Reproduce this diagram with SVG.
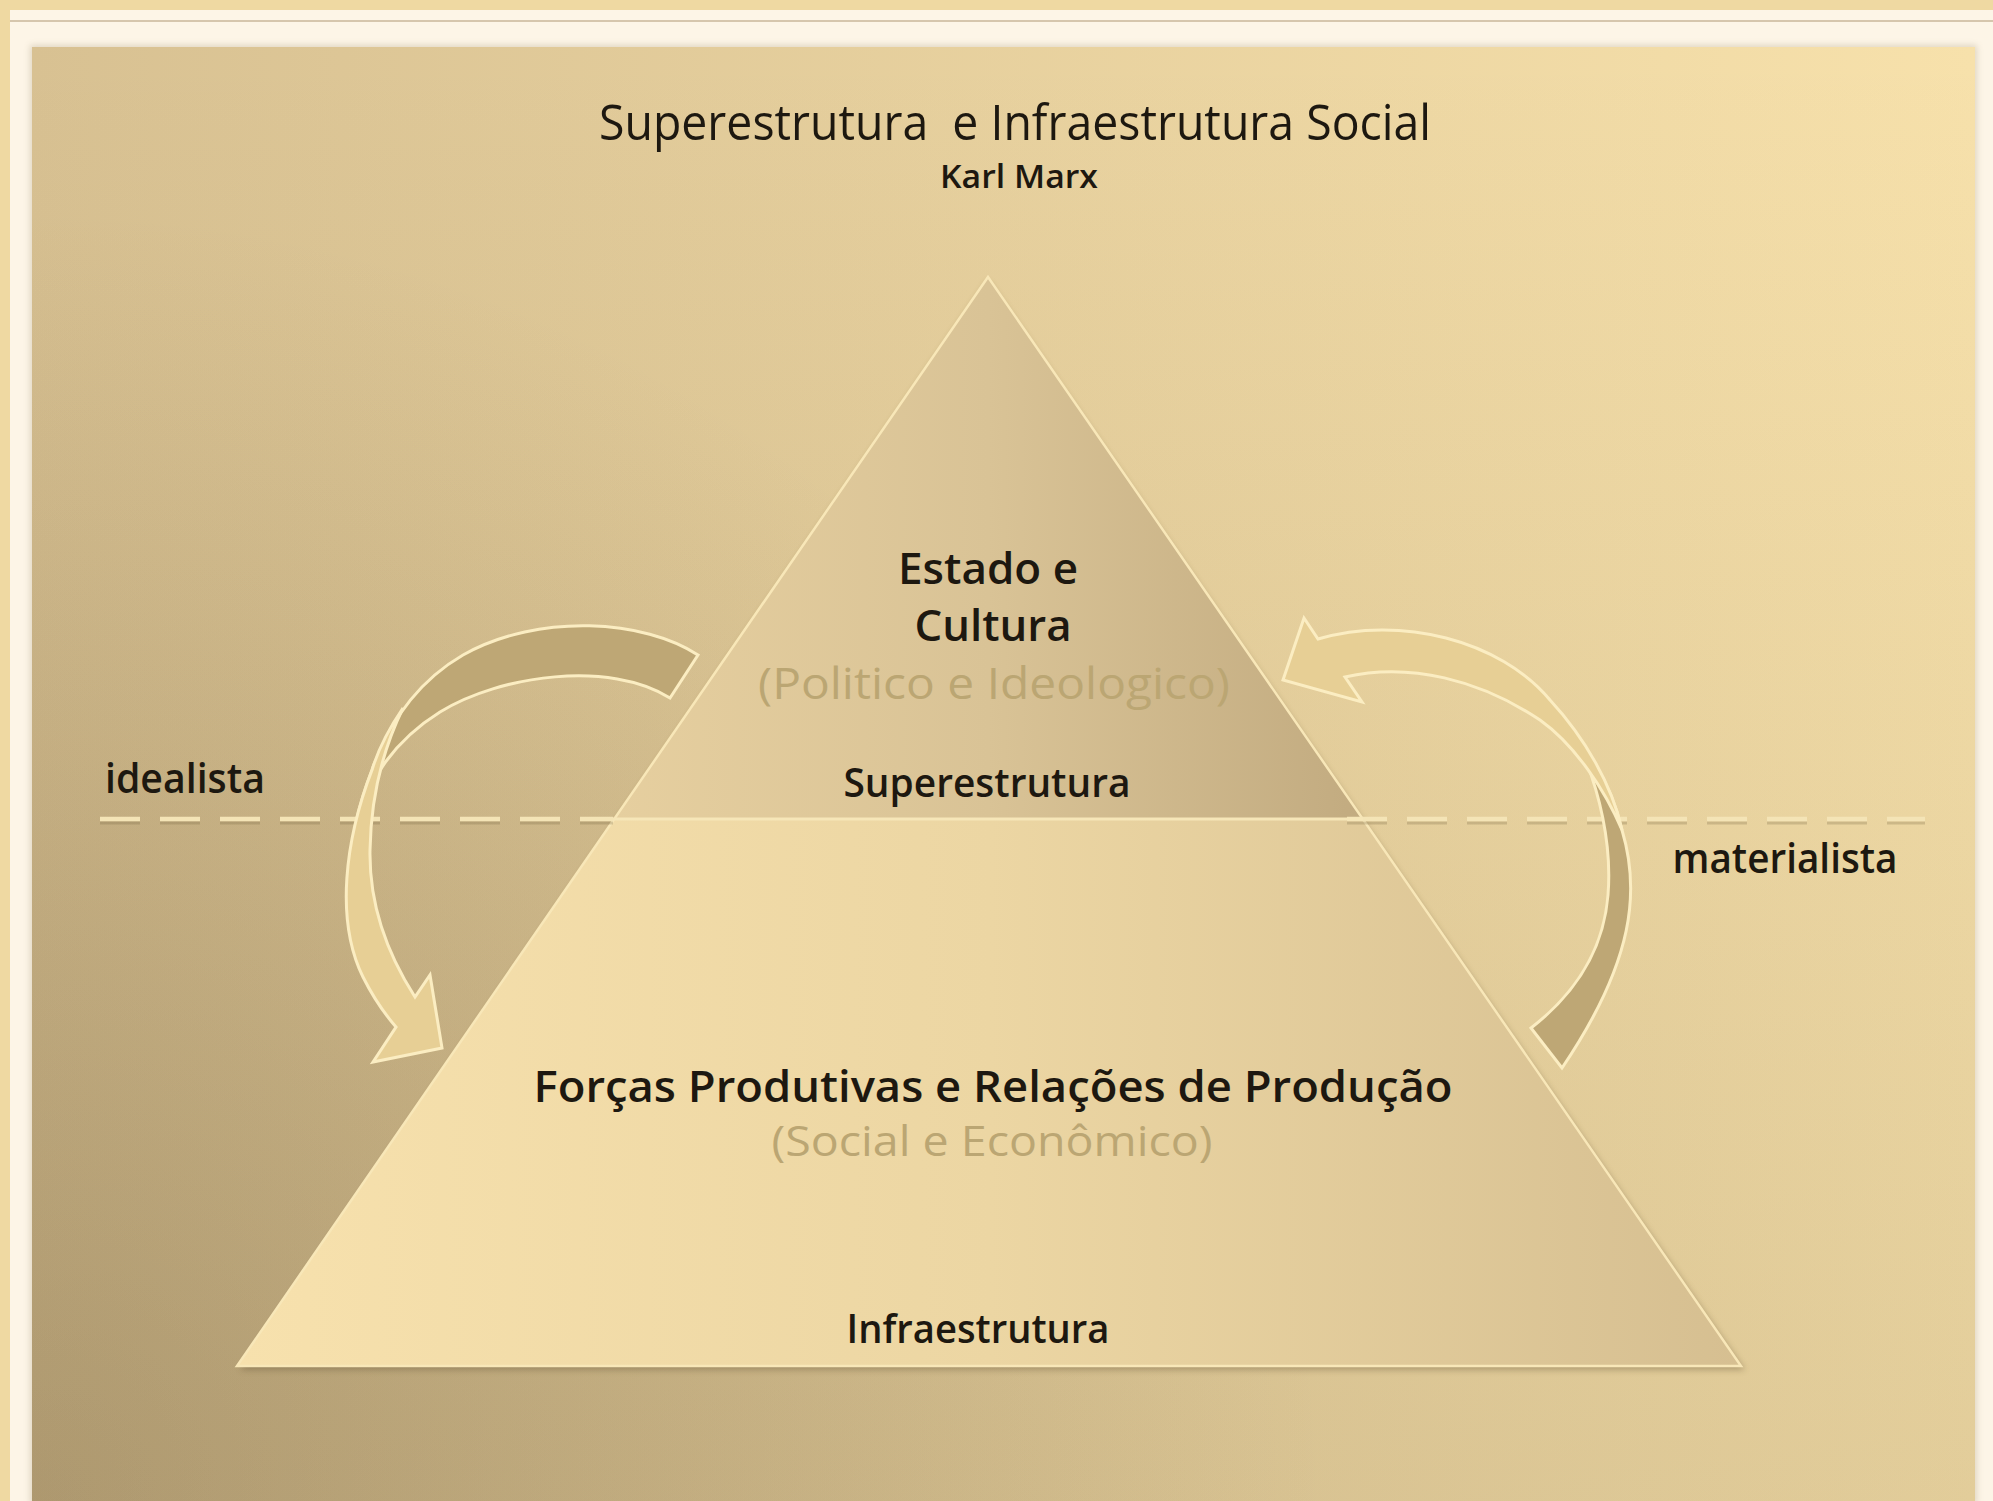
<svg xmlns="http://www.w3.org/2000/svg" width="1993" height="1501" viewBox="0 0 1993 1501">
<defs>
  <linearGradient id="panelH" x1="32" y1="0" x2="1975" y2="0" gradientUnits="userSpaceOnUse">
    <stop offset="0" stop-color="#d8c192"/>
    <stop offset="1" stop-color="#f7e1ab"/>
  </linearGradient>
  <linearGradient id="panelV" x1="0" y1="47" x2="0" y2="1501" gradientUnits="userSpaceOnUse">
    <stop offset="0" stop-color="#3a2a10" stop-opacity="0"/>
    <stop offset="1" stop-color="#3a2a10" stop-opacity="0.11"/>
  </linearGradient>
  <radialGradient id="panelBL" cx="32" cy="1501" r="1300" gradientUnits="userSpaceOnUse">
    <stop offset="0" stop-color="#3a2a10" stop-opacity="0.18"/>
    <stop offset="1" stop-color="#3a2a10" stop-opacity="0"/>
  </radialGradient>
  <linearGradient id="topFill" x1="613" y1="0" x2="1363" y2="0" gradientUnits="userSpaceOnUse">
    <stop offset="0" stop-color="#e6cf9f"/>
    <stop offset="0.5" stop-color="#d9c396"/>
    <stop offset="1" stop-color="#c2ab80"/>
  </linearGradient>
  <linearGradient id="baseFill" x1="237" y1="0" x2="1741" y2="0" gradientUnits="userSpaceOnUse">
    <stop offset="0" stop-color="#f7e1ad"/>
    <stop offset="0.5" stop-color="#ecd6a3"/>
    <stop offset="1" stop-color="#d6bf91"/>
  </linearGradient>
  <filter id="soft" x="-5%" y="-5%" width="110%" height="110%"><feGaussianBlur stdDeviation="3"/></filter>
</defs>
<style>
  text { font-family: "Open Sans", "Noto Sans", "Liberation Sans", sans-serif; text-anchor: middle; fill: #1d1810; }
  .main { font-weight: 600; }
  .reg { font-weight: 500; }
  .sub { fill: #bba673; font-weight: 400; }
  .edge { fill: none; stroke: #f8e7b8; stroke-width: 2.5; stroke-linejoin: miter; }
  .dash { stroke: #f4e4b6; stroke-width: 4.5; stroke-dasharray: 40 20; fill: none; }
  .dashShadow { stroke: #6f5f3a; stroke-opacity: .25; stroke-width: 3; stroke-dasharray: 40 20; fill: none; }
  .arrowDark { fill: #bea775; stroke: #fbedc2; stroke-width: 3; stroke-linejoin: miter; }
  .arrowLight { fill: #e7cf95; stroke: #fbedc2; stroke-width: 3; stroke-linejoin: miter; }
</style>

<!-- frame -->
<rect x="0" y="0" width="1993" height="1501" fill="#fdf5e7"/>
<rect x="0" y="0" width="1993" height="10" fill="#efd9a2"/>
<rect x="0" y="0" width="10" height="1501" fill="#efd9a2"/>
<rect x="10" y="20" width="1983" height="2" fill="#d6c6ad"/>

<!-- panel -->
<rect x="30" y="45" width="1947" height="1460" fill="#8a7a58" opacity="0.25" filter="url(#soft)"/>
<rect x="32" y="47" width="1943" height="1454" fill="url(#panelH)"/>
<rect x="32" y="47" width="1943" height="1454" fill="url(#panelV)"/>
<rect x="32" y="47" width="1943" height="1454" fill="url(#panelBL)"/>

<!-- title -->
<g id="title">
  <text class="reg" x="1015" y="140" font-size="50" textLength="832" lengthAdjust="spacingAndGlyphs" xml:space="preserve">Superestrutura  e Infraestrutura Social</text>
  <text class="main" x="1019" y="188" font-size="32" textLength="158" lengthAdjust="spacingAndGlyphs">Karl Marx</text>
</g>

<!-- pyramid shadow -->
<polygon points="988,281 240,1370 1745,1370" fill="#5a4a2a" opacity="0.35" filter="url(#soft)"/>

<g id="superestrutura">
  <polygon points="988,277 613,820 1363,820" fill="url(#topFill)"/>
  <text class="main" x="988" y="584" font-size="44" textLength="180" lengthAdjust="spacingAndGlyphs">Estado e</text>
  <text class="main" x="993" y="641" font-size="44" textLength="157" lengthAdjust="spacingAndGlyphs">Cultura</text>
  <text class="sub" x="994" y="699" font-size="44" textLength="472" lengthAdjust="spacingAndGlyphs">(Politico e Ideologico)</text>
  <text class="main" x="987" y="797" font-size="39" textLength="287" lengthAdjust="spacingAndGlyphs">Superestrutura</text>
</g>

<g id="infraestrutura">
  <polygon points="613,820 1363,820 1741,1366 237,1366" fill="url(#baseFill)"/>
  <text class="main" x="993" y="1102" font-size="44" textLength="919" lengthAdjust="spacingAndGlyphs">Forças Produtivas e Relações de Produção</text>
  <text class="sub" x="992" y="1156" font-size="42" textLength="441" lengthAdjust="spacingAndGlyphs">(Social e Econômico)</text>
  <text class="main" x="978" y="1343" font-size="39" textLength="263" lengthAdjust="spacingAndGlyphs">Infraestrutura</text>
</g>

<g id="pyramid-outline">
  <polygon class="edge" points="988,277 1741,1366 237,1366"/>
</g>

<g id="label-idealista">
  <text class="main" x="185" y="793" font-size="41" textLength="160" lengthAdjust="spacingAndGlyphs">idealista</text>
</g>
<g id="label-materialista">
  <text class="main" x="1785" y="873" font-size="41" textLength="225" lengthAdjust="spacingAndGlyphs">materialista</text>
</g>

<g id="connectors">
  <!-- divider -->
  <line class="dashShadow" x1="100" y1="823" x2="613" y2="823"/>
  <line class="dash" x1="100" y1="819" x2="613" y2="819"/>
  <line class="dashShadow" x1="1347" y1="823" x2="1925" y2="823"/>
  <line class="dash" x1="1347" y1="819" x2="1925" y2="819"/>
  <line x1="613" y1="819" x2="1363" y2="819" stroke="#f6e6b8" stroke-width="3"/>

  <!-- left arrow (idealista) -->
  <g id="arrow-idealista">
    <path class="arrowDark" d="M 698,655 C 645,620 540,612 463,655 C 420,680 390,720 372,770 C 365,788 360,805 356,822 C 368,780 395,740 440,712 C 500,675 610,660 670,698 Z"/>
    <path class="arrowLight" d="M 403,708 C 388,730 378,750 372,770 C 345,840 335,920 363,977 C 372,995 383,1012 396,1027 L 373,1062 L 442,1048 L 430,975 L 415,997 C 388,955 369,905 370,850 C 371,790 385,745 403,708 Z"/>
  </g>

  <!-- right arrow (materialista) -->
  <g id="arrow-materialista">
    <path class="arrowDark" d="M 1562,1068 C 1635,960 1640,890 1622,830 C 1614,795 1598,765 1578,742 C 1600,790 1612,845 1608,895 C 1604,945 1580,990 1531,1028 Z"/>
    <path class="arrowLight" d="M 1318,639 C 1400,615 1500,640 1550,700 C 1585,738 1612,785 1622,830 C 1605,790 1575,745 1540,720 C 1480,680 1410,662 1345,677 L 1362,702 L 1283,680 L 1304,618 Z"/>
  </g>
</g>
</svg>
